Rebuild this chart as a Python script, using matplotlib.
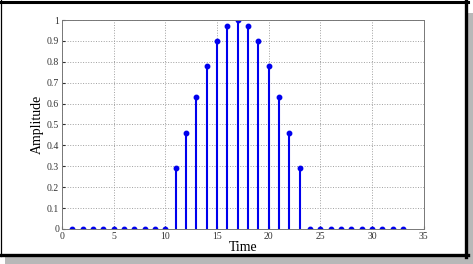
import matplotlib.pyplot as plt
from matplotlib.patches import Rectangle
from matplotlib.lines import Line2D

# sample index and amplitude
time = list(range(1, 34))
amplitude = [0] * 10 + [0.29, 0.46, 0.63, 0.78, 0.90, 0.97, 1.0,
                        0.97, 0.90, 0.78, 0.63, 0.46, 0.29] + [0] * 10
x_ticks = [0, 5, 10, 15, 20, 25, 30, 35]
y_ticks = [0, 0.1, 0.2, 0.3, 0.4, 0.5, 0.6, 0.7, 0.8, 0.9, 1]
y_labels = ['0', '0.1', '0.2', '0.3', '0.4', '0.5', '0.6', '0.7', '0.8', '0.9', '1']

plt.rcParams['font.family'] = ['Liberation Serif', 'DejaVu Serif']

fig = plt.figure(figsize=(4.73, 2.64), dpi=100)

# frame with drop shadow
fig.patches.append(Rectangle((0.01, 0.0), 0.99, 0.95, transform=fig.transFigure,
                             facecolor='#b8b8b8', edgecolor='none', zorder=0))
fig.patches.append(Rectangle((0.0, 0.032), 0.988, 0.968, transform=fig.transFigure,
                             facecolor='white', edgecolor='none', zorder=1))
tf = fig.transFigure
fig.lines.append(Line2D([0, 0.99], [0.994, 0.994], transform=tf, color='black', linewidth=2.2))
fig.lines.append(Line2D([0.003, 0.003], [0.032, 1], transform=tf, color='black', linewidth=0.9))
fig.lines.append(Line2D([0.986, 0.986], [0.026, 1], transform=tf, color='black', linewidth=2.4))
fig.lines.append(Line2D([0, 0.99], [0.034, 0.034], transform=tf, color='black', linewidth=2.4))

ax = fig.add_axes([0.131, 0.133, 0.765, 0.791])
ax.set_zorder(2)
markerline, stemlines, baseline = ax.stem(time, amplitude, basefmt=' ')
plt.setp(stemlines, color='#0000ee', linewidth=1.5)
plt.setp(markerline, color='#0000ee', markersize=3.2)

ax.set_xlim(0, 35)
ax.set_ylim(0, 1)
ax.set_xticks(x_ticks)
ax.set_yticks(y_ticks)
ax.set_yticklabels(y_labels)
ax.tick_params(labelsize=7, length=2, direction='in', pad=2, colors='#333333')
ax.grid(True, linestyle=':', color='#a0a0a0', linewidth=0.7)
for s in ax.spines.values():
    s.set_color('#777777')
    s.set_linewidth(0.7)
ax.set_xlabel('Time', fontsize=10, labelpad=0)
ax.set_ylabel('Amplitude', fontsize=10, labelpad=2)

fig.savefig('out.png', dpi=100)
